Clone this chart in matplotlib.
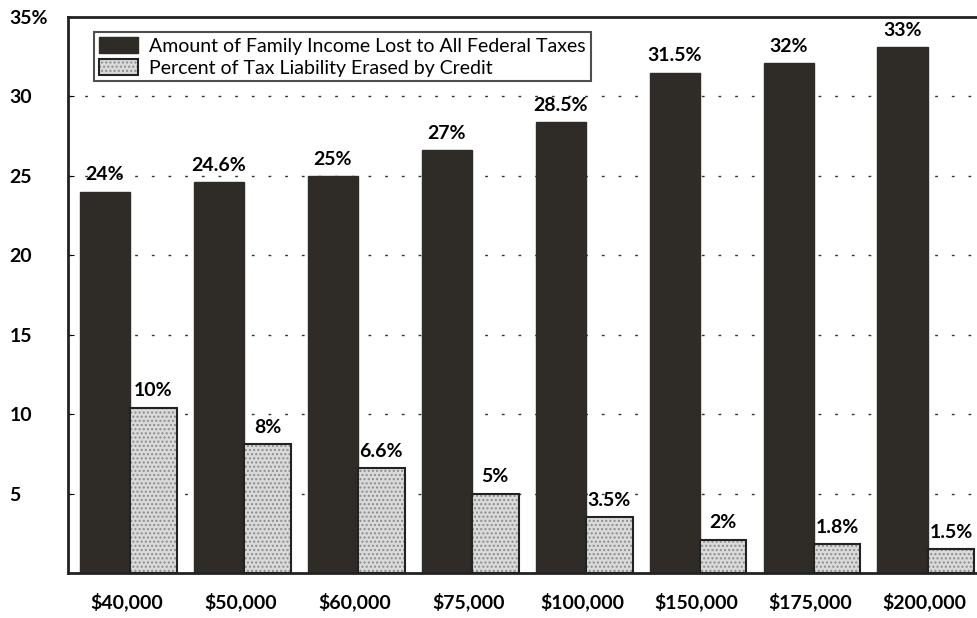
import matplotlib.pyplot as plt
import numpy as np

incomes = ["$40,000", "$50,000", "$60,000", "$75,000", "$100,000", "$150,000", "$175,000", "$200,000"]
tax_lost = [24, 24.6, 25, 26.6, 28.4, 31.5, 32.1, 33.1]
tax_labels = ["24%", "24.6%", "25%", "27%", "28.5%", "31.5%", "32%", "33%"]
credit_erased = [10.4, 8.1, 6.6, 5, 3.5, 2.1, 1.8, 1.5]
credit_labels = ["10%", "8%", "6.6%", "5%", "3.5%", "2%", "1.8%", "1.5%"]
yticks = [5, 10, 15, 20, 25, 30, 35]
ytick_labels = ["5", "10", "15", "20", "25", "30", "35%"]

plt.rcParams['font.family'] = ['Lato', 'DejaVu Sans']

fig = plt.figure(figsize=(9.77, 6.18), dpi=100)
ax = fig.add_axes([0.0696, 0.0728, 0.930, 0.8997])

x = np.arange(len(incomes))
dark_w = 0.44
light_w = 0.41

# dotted grid behind the bars
for y in yticks[:-1]:
    ax.axhline(y, color="#333333", lw=1.0, ls=(0, (2, 10)), zorder=0)

dark = ax.bar(x - dark_w / 2, tax_lost, width=dark_w, color="#2f2c27",
              edgecolor="#2f2c27", zorder=2,
              label="Amount of Family Income Lost to All Federal Taxes")
light = ax.bar(x + light_w / 2, credit_erased, width=light_w, color="#dadada",
               edgecolor="#222222", linewidth=1.5, hatch="....", zorder=2,
               label="Percent of Tax Liability Erased by Credit")
for b in light:
    b._hatch_color = (0.55, 0.55, 0.55, 1.0)

for xi, v, t in zip(x, tax_lost, tax_labels):
    ax.annotate(t, (xi - dark_w / 2, v), xytext=(0, 6), textcoords="offset points",
                ha="center", va="bottom", fontsize=14, fontweight="bold", zorder=3)
for xi, v, t in zip(x, credit_erased, credit_labels):
    ax.annotate(t, (xi + light_w / 2, v), xytext=(0, 6), textcoords="offset points",
                ha="center", va="bottom", fontsize=14, fontweight="bold", zorder=3)

ax.set_xlim(-0.545, 7.43)
ax.set_ylim(0, 35)
ax.set_yticks(yticks)
ax.set_yticklabels(ytick_labels, fontsize=14, fontweight="bold")
ax.set_xticks(x - 0.03)
ax.set_xticklabels(incomes, fontsize=14, fontweight="bold")
ax.tick_params(axis="x", length=0, pad=14)
ax.tick_params(axis="y", length=4, direction="in", pad=42)
for lbl in ax.get_yticklabels():
    lbl.set_horizontalalignment("left")

for s in ax.spines.values():
    s.set_linewidth(2)
    s.set_color("#222222")
ax.spines["right"].set_visible(False)

leg = ax.legend(loc="upper left", bbox_to_anchor=(0.018, 0.99), fontsize=14,
                frameon=True, fancybox=False, edgecolor="#222222",
                handlelength=2.0, handleheight=0.9, borderpad=0.25,
                labelspacing=0.2, handletextpad=0.6)
leg.get_frame().set_linewidth(1.5)

fig.savefig("out.png", dpi=100)
